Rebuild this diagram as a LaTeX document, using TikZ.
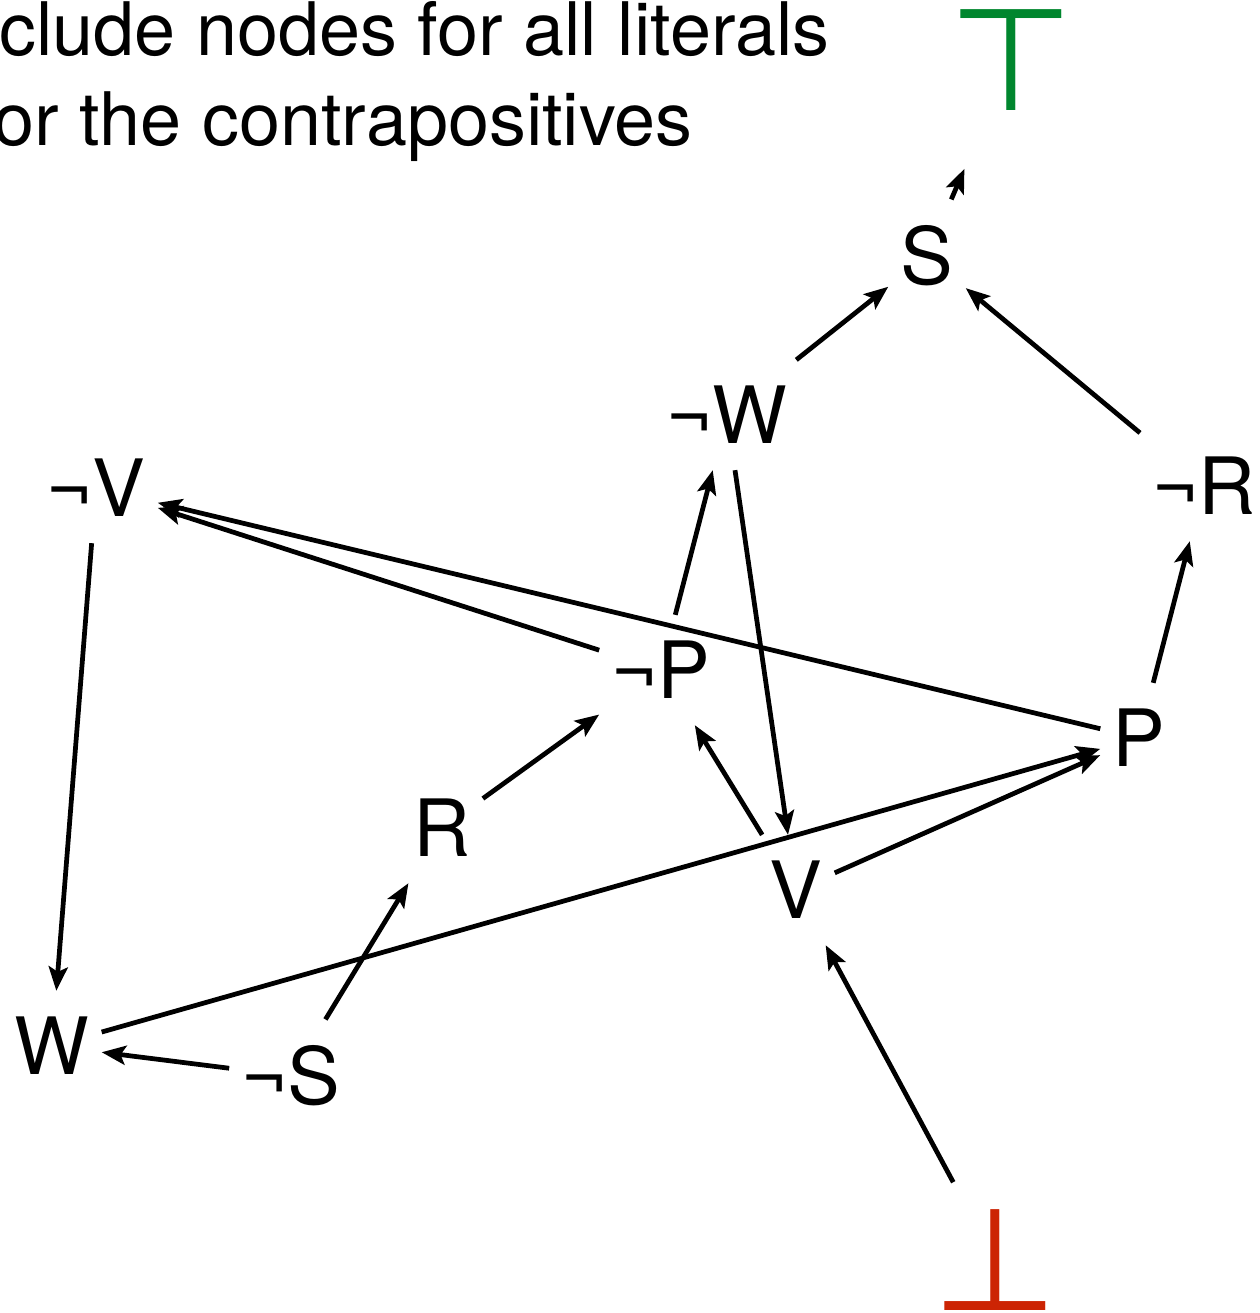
\documentclass[tikz,border=0pt]{standalone}
\usepackage{fontspec}
\setmainfont{TeX Gyre Heros}
\newfontfamily\symfont{DejaVu Sans}
\usepackage{tikz}
\usetikzlibrary{positioning,arrows.meta}
\definecolor{topgreen}{RGB}{0,134,46}
\definecolor{botred}{RGB}{204,36,4}
\tikzset{
  litnode/.style={inner xsep=0.24cm, inner ysep=0.52cm, font=\fontsize{45}{45}\selectfont},
  constnode/.style={inner xsep=0.1cm, font=\symfont\fontsize{82}{82}\selectfont},
  implarrow/.style={-{Stealth[length=0.48cm, width=0.38cm, inset=0.1cm]}, line width=2.7pt},
  headtext/.style={font=\fontsize{42}{42}\selectfont, inner sep=0pt},
}
\begin{document}
\begin{tikzpicture}
  \useasboundingbox (0,0) rectangle (25.2,-26.26);
  \clip (0,0) rectangle (25.2,-26.26);
  % heading, cut at the left edge
  \node[headtext, anchor=base east] (head1) at (16.6,-1.10) {clude nodes for all literals};
  \node[headtext, anchor=base east] (head2) at (13.86,-2.90) {or the contrapositives};
  % constants
  \node[constnode, text=topgreen, inner ysep=1.16cm] (top) at (20.22,-1.20) {⊤};
  \node[constnode, text=botred, inner ysep=0.54cm] (bot) at (19.90,-25.20) {⊥};
  % literals
  \node[litnode] (S) at (18.54,-5.12) {S};
  \node[litnode] (nW) at (14.54,-8.30) {¬W};
  \node[litnode] (nR) at (24.08,-9.72) {¬R};
  \node[litnode] (nV) at (1.92,-9.76) {¬V};
  \node[litnode] (nP) at (13.22,-13.40) {¬P};
  \node[litnode] (P) at (22.78,-14.76) {P};
  \node[litnode] (R) at (8.84,-16.56) {R};
  \node[litnode] (V) at (15.92,-17.80) {V};
  \node[litnode] (W) at (1.04,-20.92) {W};
  \node[litnode] (nS) at (5.82,-21.52) {¬S};
  % implications
  \draw[implarrow] (S) -- (top);
  \draw[implarrow] (nW) -- (S);
  \draw[implarrow] (nR) -- (S);
  \draw[implarrow] (nP) -- (nW);
  \draw[implarrow] (nW) -- (V);
  \draw[implarrow] (P) -- (nR);
  \draw[implarrow] (nP) -- (nV);
  \draw[implarrow] (P) -- (nV);
  \draw[implarrow] (R) -- (nP);
  \draw[implarrow] (V) -- (nP);
  \draw[implarrow] (V) -- (P);
  \draw[implarrow] (W) -- (P);
  \draw[implarrow] (nS) -- (R);
  \draw[implarrow] (nS) -- (W);
  \draw[implarrow] (nV) -- (W);
  \draw[implarrow] (bot) -- (V);
\end{tikzpicture}
\end{document}
